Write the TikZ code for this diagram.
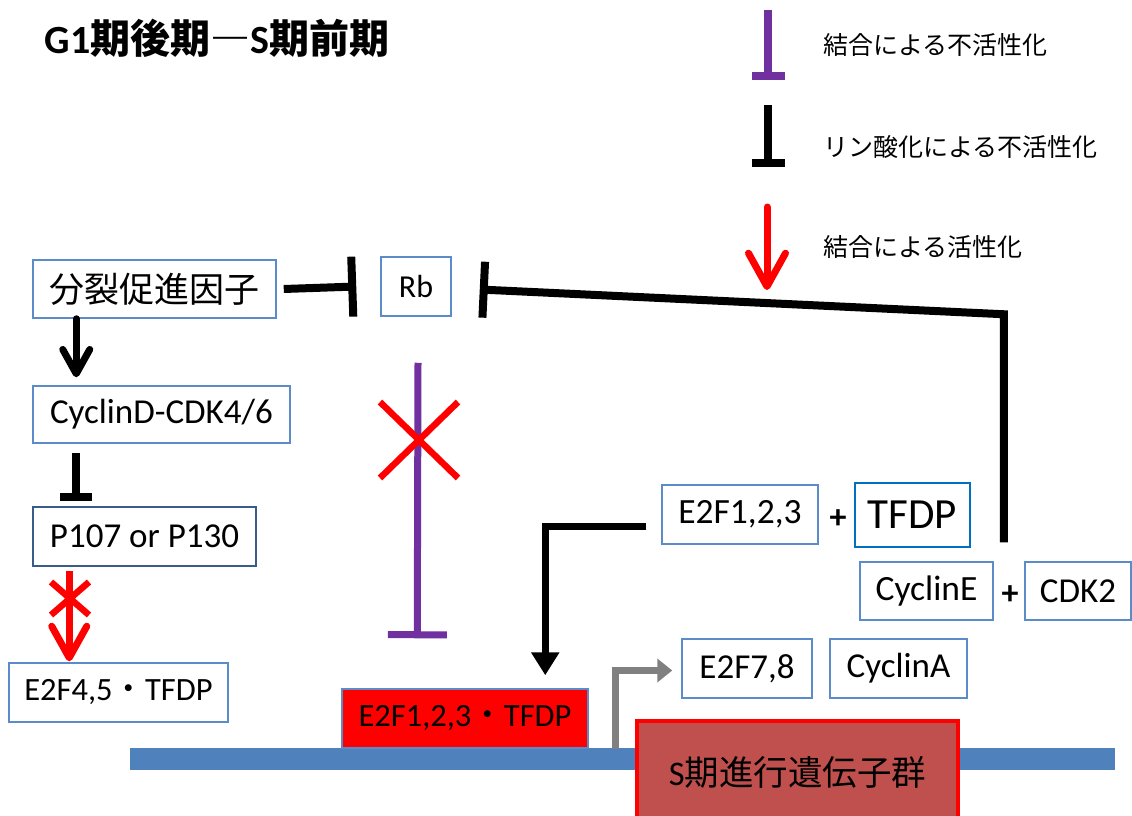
\documentclass[tikz,border=0pt]{standalone}
\usepackage{fontspec}
\setmainfont{Carlito}
\newfontfamily\jp{Noto Sans CJK JP}
\usetikzlibrary{arrows.meta,positioning}
\newcommand\pxsize[1]{\fontsize{#1}{#1}\selectfont}
\definecolor{boxblue}{RGB}{91,139,201}
\definecolor{navyline}{RGB}{56,93,138}
\definecolor{tfblue}{RGB}{0,112,192}
\definecolor{bindpurple}{RGB}{112,48,160}
\definecolor{dnablue}{RGB}{79,129,189}
\definecolor{brick}{RGB}{192,80,77}

\begin{document}
\begin{tikzpicture}[x=1pt,y=-1pt,
  box/.style={draw=boxblue,line width=1.5pt,fill=white,inner sep=0pt,minimum height=58pt,font=\pxsize{35}},
  legtext/.style={anchor=west,inner sep=0pt,font=\jp\pxsize{25}},
  blocks/.style={line width=8pt,-{Bar[width=#1]}},
  acts/.style={line width=7pt,line cap=round,-{Straight Barb[width=#1,length=0.9*#1,round]}},
  cross/.style={red,line width=6.5pt}]
\useasboundingbox (0,0) rectangle (1132,816);
\clip (0,0) rectangle (1132,816);
\fill[white] (0,0) rectangle (1132,816);

% DNA
\fill[dnablue] (130,748) rectangle (1115,770);

\node[font=\pxsize{40}\bfseries] (title) at (217,38) {G1{\jp\bfseries 期後期―}S{\jp\bfseries 期前期}};

%-legend-%
\coordinate (lg1a) at (768,10);   \coordinate (lg1b) at (768,80);
\coordinate (lg2a) at (768,105);  \coordinate (lg2b) at (768,167);
\coordinate (lg3a) at (767,207);  \coordinate (lg3b) at (767,290);
\node[legtext] (lgbind)  at (823,45)  {結合による不活性化};
\node[legtext] (lgphos)  at (823,147) {リン酸化による不活性化};
\node[legtext] (lgact)   at (823,247) {結合による活性化};
\draw[blocks=33pt,bindpurple] (lg1a) -- (lg1b);
\draw[blocks=33pt] (lg2a) -- (lg2b);
\draw[acts=37pt,red] (lg3a) -- (lg3b);

%-boxes-%
\node[box,minimum width=243pt,font=\jp\pxsize{35}] (mitogen) at (154.5,289)  {分裂促進因子};
\node[box,minimum width=70pt,minimum height=59pt,font=\pxsize{32}] (rb) at (416,286.5) {Rb};
\node[box,minimum width=257pt,minimum height=57pt]                (cycd)  at (161.5,414.5) {CyclinD-CDK4/6};
\node[box,draw=navyline,minimum width=223pt,minimum height=59pt]  (p107)  at (144.5,536.5) {P107 or P130};
\node[box,minimum width=219pt,minimum height=59pt,font=\pxsize{32.5}] (e2f45) at (118.5,692.5) {E2F4,5{\jp ・}TFDP};
\node[box,fill=red,minimum width=246pt,minimum height=59pt,font=\pxsize{32.5}] (e2fred) at (465,718.5) {E2F1,2,3{\jp ・}TFDP};
\node[box,minimum width=156pt,minimum height=59pt,font=\pxsize{35.5}] (e2f123) at (740,514.5) {E2F1,2,3};
\node[box,draw=tfblue,line width=2.5pt,minimum width=115pt,minimum height=64pt,font=\pxsize{43}] (tfdp) at (912.5,515) {TFDP};
\node[box,minimum width=133pt,font=\pxsize{35.5}] (cyce)  at (926.5,591)  {CyclinE};
\node[box,minimum width=106pt,font=\pxsize{35}] (cdk2)  at (1078,591)   {CDK2};
\node[box,minimum width=130pt,minimum height=59pt] (e2f78) at (747,668.5) {E2F7,8};
\node[box,minimum width=137pt,minimum height=59pt,font=\pxsize{35}] (cyca) at (898.5,668.5) {CyclinA};
\node[box,draw=red,line width=4pt,fill=brick,minimum width=321pt,minimum height=102pt,font=\pxsize{34.5}] (sgenes) at (797.5,772) {S{\jp 期進行遺伝子群}};
\node[font=\pxsize{34}\bfseries] (plus1) at (838,519) {+};
\node[font=\pxsize{34}\bfseries] (plus2) at (1010,595) {+};

%-connectors-%
\coordinate (cyctop) at ([xshift=10pt,yshift=19pt]cyce.north east);
\draw[blocks=60pt] ([xshift=7pt]mitogen.east) -- ([xshift=-24pt]rb.west);
\draw[blocks=56pt,line join=miter] (cyctop) -- ++(0,-228) -- ([xshift=28pt,yshift=-3pt]rb.east);
\draw[acts=27pt] ([xshift=44pt]mitogen.south west) -- ([xshift=44pt,yshift=8pt]cycd.north west);
\draw[blocks=32pt] ([xshift=44pt,yshift=-9pt]cycd.south west) -- ([xshift=44pt,yshift=5pt]p107.north west);
\draw[acts=35pt,red,line width=7pt,line cap=butt] ([xshift=37pt,yshift=-4pt]p107.south west) -- ([xshift=61pt,yshift=1pt]e2f45.north west);
\draw[blocks=59pt,bindpurple,line width=7pt] ([xshift=2pt,yshift=-46pt]rb.south) -- ([xshift=76pt,yshift=50pt]e2fred.north west);
\draw[line width=7pt,line join=miter,-{Triangle[width=27pt,length=23pt]}] ([xshift=-15pt,yshift=-12pt]e2f123.west) -| ([xshift=204pt,yshift=13pt]e2fred.north west);
\draw[gray,line width=7pt,line join=miter,-{Triangle[width=23pt,length=15pt]}] ([xshift=27pt]e2fred.south east) |- ([xshift=-9pt,yshift=-2pt]e2f78.west);

%-crosses-%
\draw[cross] (51,582) -- (89,615) (89,582) -- (51,615);
\draw[cross] (380,402) -- (458,478) (458,402) -- (380,478);
\end{tikzpicture}
\end{document}
